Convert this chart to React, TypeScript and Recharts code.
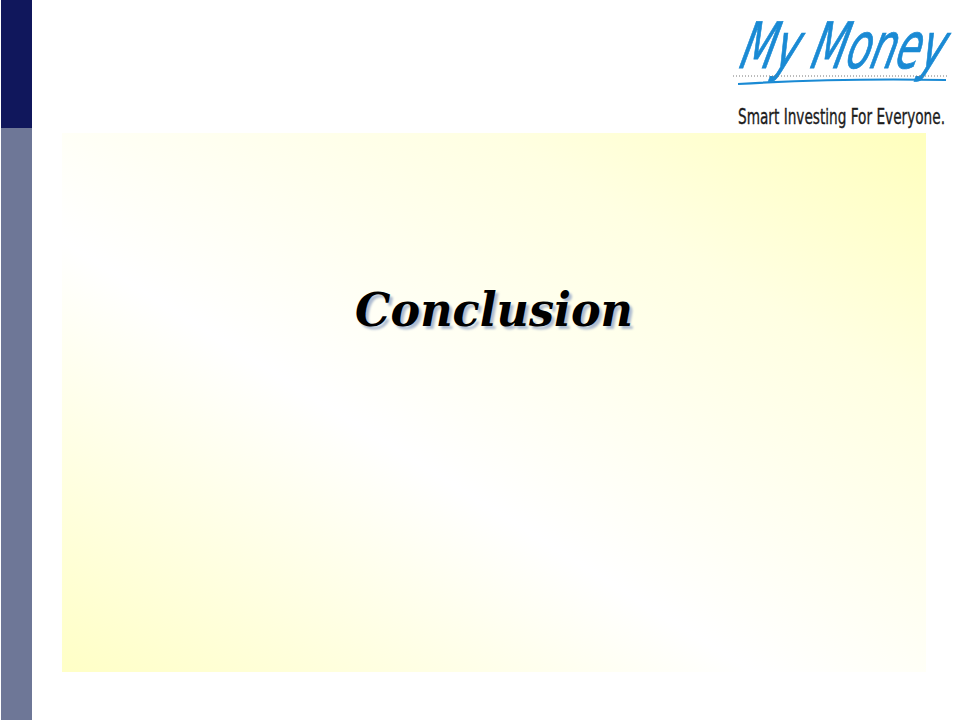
import React from "react";
import { ComposedChart, XAxis, YAxis, ReferenceArea, ReferenceLine } from "recharts";

// Slide layout "data" (this reference is a title slide with no numeric series)
const slideTitle = "Conclusion";
const logoText = "My Money";
const tagline = "Smart Investing For Everyone.";
const sideBands = [
  { name: "top", y1: 0, y2: 128, color: "#10175c" },
  { name: "bottom", y1: 128, y2: 720, color: "#6e7797" },
];
const axisDomainX = [0, 960];
const axisDomainY = [0, 720];
const points = [{ x: 0, y: 0 }, { x: 960, y: 720 }];

function TitleLabel(props: any) {
  const vb = props.viewBox || { x: 62, y: 133, width: 864, height: 539 };
  const cx = vb.x + vb.width / 2 + 0;
  const by = vb.y + 193;
  const common = {
    textAnchor: "middle" as const,
    fontFamily: "'DejaVu Serif', Georgia, serif",
    fontWeight: "bold",
    fontStyle: "italic",
    fontSize: 46,
    textLength: 278,
    lengthAdjust: "spacingAndGlyphs" as const,
  };
  return (
    <g>
      <text x={cx + 3} y={by + 3} fill="#adbbd0" filter="url(#soft)" {...common}>
        {slideTitle}
      </text>
      <text x={cx} y={by} fill="#000000" {...common}>
        {slideTitle}
      </text>
    </g>
  );
}

export default function App() {
  return (
    <div style={{ position: "absolute", left: 0, top: 0, width: 960, height: 720, background: "#ffffff" }}>
      <ComposedChart width={960} height={720} data={points} margin={{ top: 0, right: 0, bottom: 0, left: 0 }}>
        <defs>
          <linearGradient id="panelGrad" x1="1" y1="0" x2="0" y2="1">
            <stop offset="0" stopColor="#ffffbd" />
            <stop offset="0.25" stopColor="#ffffe2" />
            <stop offset="0.6" stopColor="#ffffff" />
            <stop offset="1" stopColor="#ffffc6" />
          </linearGradient>
          <filter id="soft" x="-5%" y="-20%" width="110%" height="140%">
            <feGaussianBlur stdDeviation="0.8" />
          </filter>
        </defs>
        <XAxis type="number" dataKey="x" domain={axisDomainX} hide allowDataOverflow />
        <YAxis type="number" dataKey="y" domain={axisDomainY} reversed hide allowDataOverflow />
        {sideBands.map((b) => (
          <ReferenceArea key={b.name} x1={1} x2={32} y1={b.y1} y2={b.y2} fill={b.color} fillOpacity={1} stroke="none" ifOverflow="visible" />
        ))}
        <ReferenceArea
          x1={62}
          x2={926}
          y1={133}
          y2={672}
          fill="url(#panelGrad)"
          fillOpacity={1}
          stroke="none"
          ifOverflow="visible"
          label={<TitleLabel />}
        />
        <ReferenceLine
          segment={[{ x: 733, y: 76 }, { x: 948, y: 76 }]}
          stroke="#777777"
          strokeWidth={1}
          strokeDasharray="1 2"
          ifOverflow="visible"
        />
        <g>
          <path d="M 738 84 Q 840 78 946 80" stroke="#1a8ad4" strokeWidth={2.2} fill="none" />
          <text
            x={738}
            y={68}
            fontFamily="'DejaVu Sans Condensed', 'DejaVu Sans', sans-serif"
            fontStyle="italic"
            fontSize={64}
            fill="#1a8ad4"
            stroke="#1a8ad4"
            strokeWidth={0.8}
            textLength={204}
            lengthAdjust="spacingAndGlyphs"
            transform="translate(738 68) skewX(-14) translate(-738 -68)"
          >
            {logoText}
          </text>
          <text
            x={738}
            y={124}
            fontFamily="'DejaVu Sans Condensed', 'Liberation Sans Narrow', sans-serif"
            fontSize={22}
            fill="#1c1c1c"
            stroke="#1c1c1c"
            strokeWidth={0.35}
            textLength={207}
            lengthAdjust="spacingAndGlyphs"
          >
            {tagline}
          </text>
        </g>
      </ComposedChart>
    </div>
  );
}
